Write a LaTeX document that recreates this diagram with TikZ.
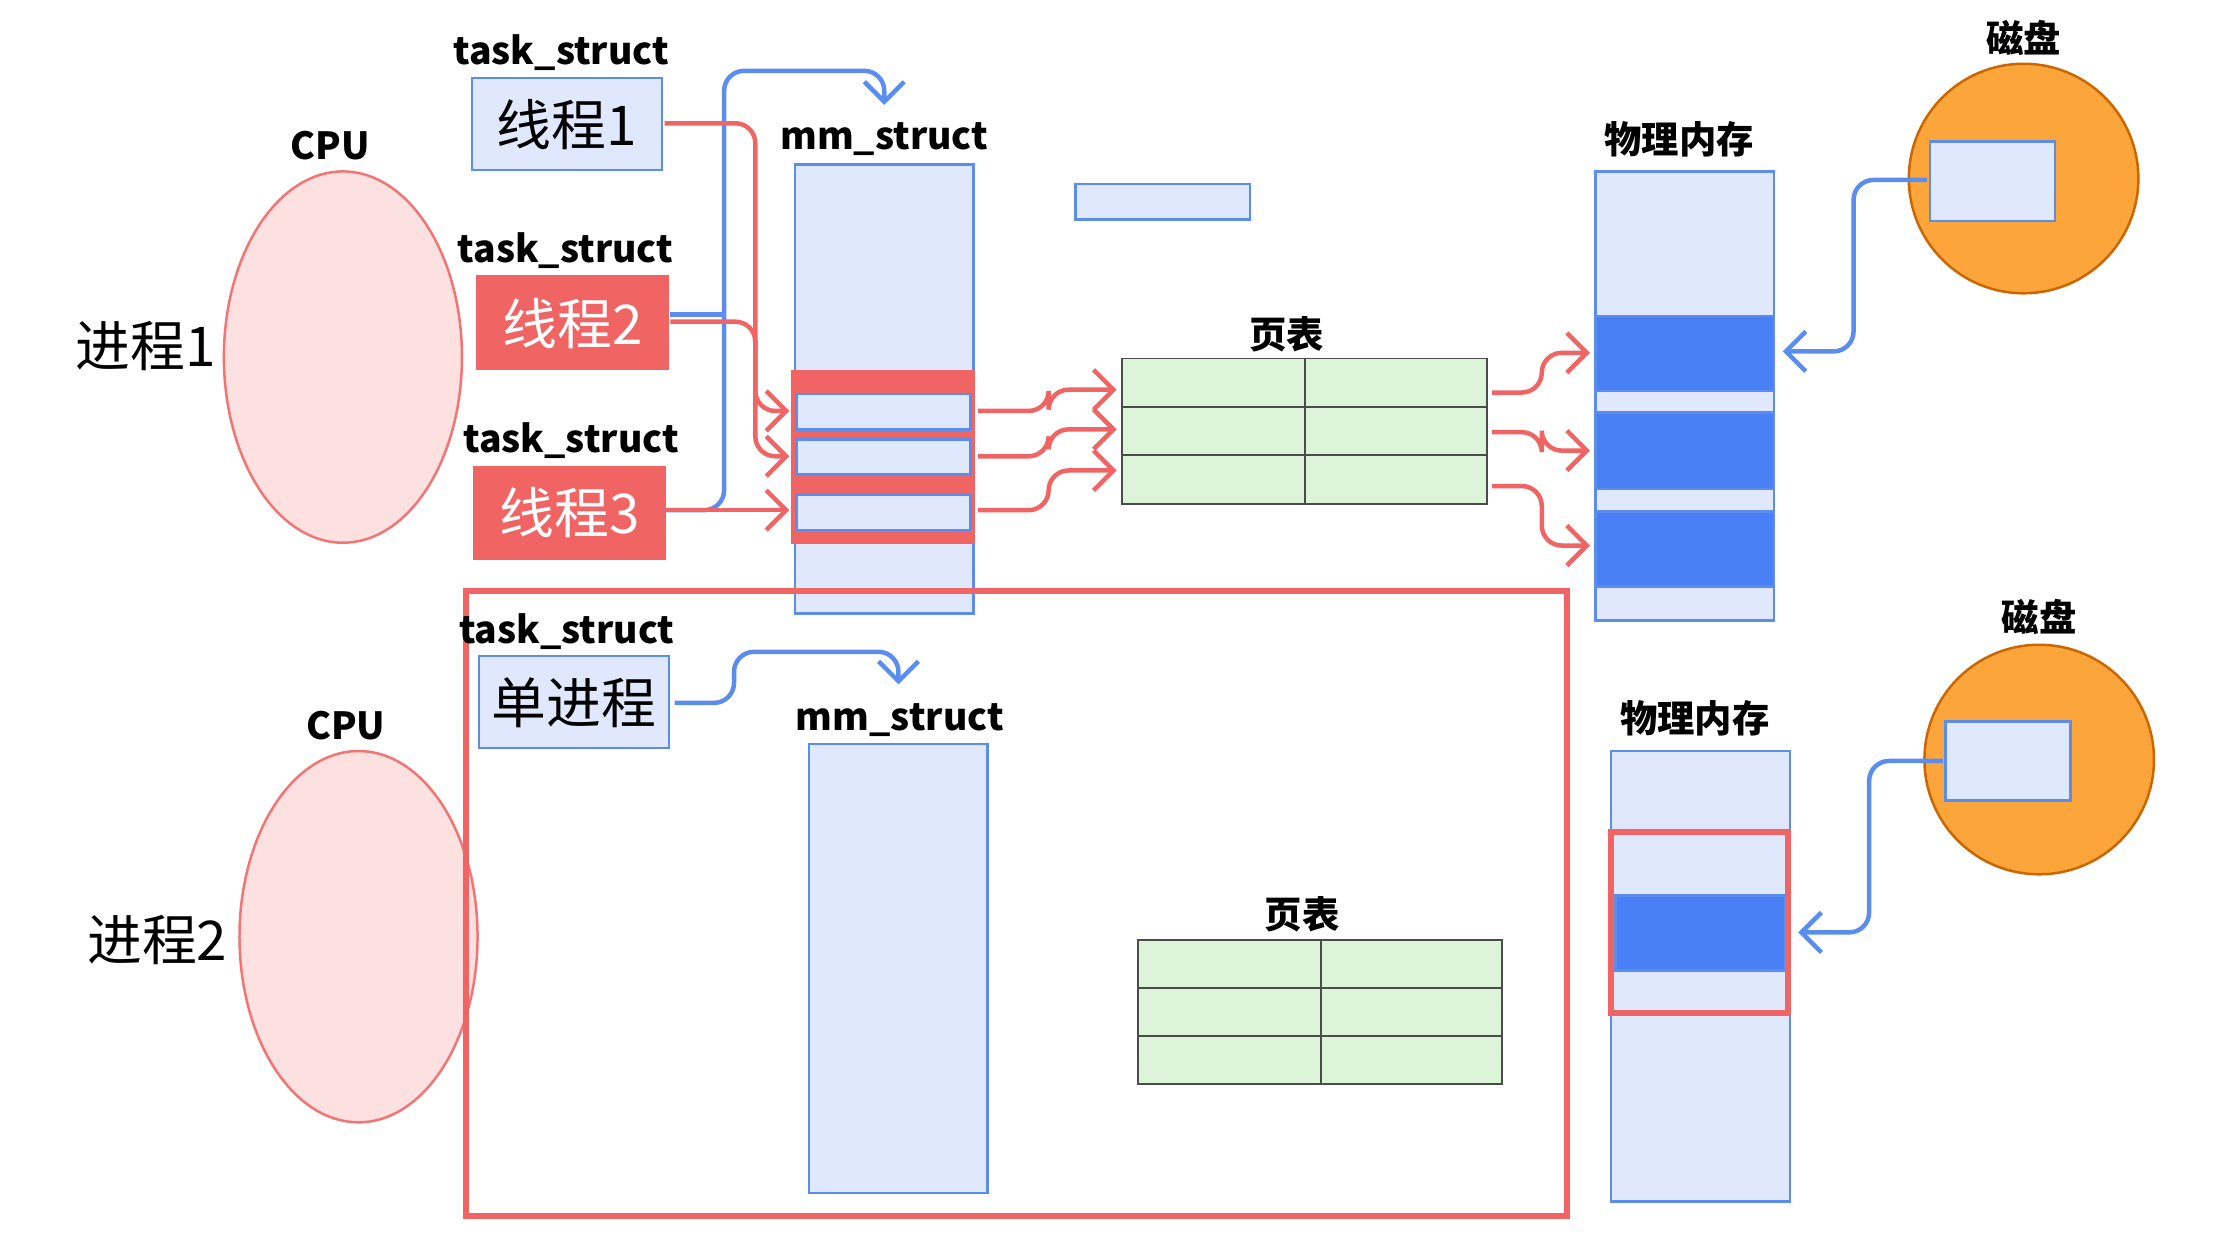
\documentclass[tikz,border=0pt]{standalone}
\usepackage{fontspec}
\setmainfont{Noto Sans CJK SC}
\usetikzlibrary{arrows.meta}
\definecolor{lb}{HTML}{DFE8FC}
\definecolor{bs}{HTML}{5B8DEF}
\definecolor{rd}{HTML}{F06464}
\definecolor{db}{HTML}{4A80F5}
\definecolor{gr}{HTML}{DCF5D8}
\definecolor{pk}{HTML}{FDE0E0}
\definecolor{og}{HTML}{FCA53A}
\begin{document}
\begin{tikzpicture}[x=0.01cm,y=-0.01cm,
 lbl/.style={font=\fontsize{7.5}{9}\selectfont\bfseries},
 big/.style={font=\fontsize{11}{13}\selectfont},
 lbox/.style={draw=bs,fill=lb,line width=0.5pt},
 rbox/.style={draw=rd,fill=rd,line width=0.5pt},
 dbox/.style={draw=bs,fill=db,line width=0.5pt},
 cpu/.style={draw=rd!90,fill=pk,line width=0.5pt},
 ra/.style={draw=rd,line width=0.9pt,rounded corners=4,-{Straight Barb[length=4pt,width=8pt]}},
 ba/.style={draw=bs,line width=0.9pt,rounded corners=4,-{Straight Barb[length=4pt,width=8pt]}},
 tab/.style={draw=black!70,fill=gr,line width=0.4pt}]
\useasboundingbox (0,0) rectangle (1568,874);
\fill[white] (0,0) rectangle (1568,874);
% ---------- process 1 ----------
\draw[cpu] (242,252) ellipse [x radius=84,y radius=131];
\node[lbl] (cpu1) at (233,103) {CPU};
\node[big] (p1) at (103,244) {进程1};
\node[lbl] (ts1) at (396,37) {task\_struct};
\node[lbl] (ts2) at (399,177) {task\_struct};
\node[lbl] (ts3) at (403,311) {task\_struct};
\draw[lbox] (333,55) rectangle (467,120); \node[big] (t1) at (400,88) {线程1};
\draw[rbox] (337,195) rectangle (471,260); \node[big,text=white] (t2) at (404,228) {线程2};
\draw[rbox] (335,330) rectangle (469,394); \node[big,text=white] (t3) at (402,362) {线程3};
\node[lbl] (mm1) at (624,98) {mm\_struct};
\draw[lbox] (561,116) rectangle (687,433);
\draw[rbox] (559,262) rectangle (687,383);
\draw[lbox] (562,278) rectangle (685,303);
\draw[lbox] (562,310) rectangle (685,335);
\draw[lbox] (562,349) rectangle (685,374);
\draw[lbox] (759,130) rectangle (882,155);
\node[lbl] (pt1) at (908,236) {页表};
\draw[tab] (792,253) rectangle (1049,356);
\draw[black!70,line width=0.4pt] (792,287) -- (1049,287) (792,321) -- (1049,321) (921,253) -- (921,356);
\node[lbl] (pm1) at (1185,98) {物理内存};
\draw[lbox] (1126,121) rectangle (1252,438);
\draw[dbox] (1126,223) rectangle (1252,276);
\draw[dbox] (1126,291) rectangle (1252,345);
\draw[dbox] (1126,361) rectangle (1252,414);
\node[lbl] (d1) at (1428,27) {磁盘};
\draw[draw=orange!80!black,fill=og,line width=0.5pt] (1428,126) circle [radius=81];
\draw[lbox] (1362,100) rectangle (1450,156);
% arrows
\draw[ba] (1360,127) -- (1308,127) -- (1308,248) -- (1258,248);
\draw[ba] (469,360) -- (511,360) -- (511,50) -- (624,50) -- (624,74);
\draw[bs,line width=0.9pt] (473,222) -- (511,222);
\draw[ra] (469,87) -- (533,87) -- (533,290) -- (557,290);
\draw[ra] (473,227) -- (533,227) -- (533,322) -- (557,322);
\draw[ra] (469,360) -- (557,360);
\draw[ra] (690,290) -- (740,290) -- (740,275) -- (788,275);
\draw[ra] (690,322) -- (740,322) -- (740,303) -- (788,303);
\draw[ra] (690,360) -- (740,360) -- (740,332) -- (788,332);
\draw[ra] (1053,277) -- (1088,277) -- (1088,249) -- (1122,249);
\draw[ra] (1053,305) -- (1088,305) -- (1088,318) -- (1122,318);
\draw[ra] (1053,343) -- (1088,343) -- (1088,385) -- (1122,385);
% ---------- process 2 ----------
\draw[cpu] (253,661) ellipse [x radius=84,y radius=131];
\node[lbl] (cpu2) at (244,512) {CPU};
\node[big] (p2) at (111,663) {进程2};
\draw[rd,line width=1.2pt] (329,417) rectangle (1106,858);
\node[lbl] (ts4) at (400,446) {task\_struct};
\draw[lbox] (338,463) rectangle (472,528); \node[big] (sp) at (405,496) {单进程};
\draw[ba] (476,496) -- (518,496) -- (518,460) -- (634,460) -- (634,483);
\node[lbl] (mm2) at (635,508) {mm\_struct};
\draw[lbox] (571,525) rectangle (697,842);
\node[lbl] (pt2) at (919,645) {页表};
\draw[tab] (803,663) rectangle (1060,765);
\draw[black!70,line width=0.4pt] (803,697) -- (1060,697) (803,731) -- (1060,731) (932,663) -- (932,765);
\node[lbl] (pm2) at (1196,507) {物理内存};
\draw[lbox] (1137,530) rectangle (1263,848);
\draw[dbox] (1140,632) rectangle (1260,685);
\draw[rd,line width=1.2pt] (1137,587) rectangle (1262,715);
\node[lbl] (d2) at (1439,435) {磁盘};
\draw[draw=orange!80!black,fill=og,line width=0.5pt] (1439,536) circle [radius=81];
\draw[lbox] (1373,509) rectangle (1461,565);
\draw[ba] (1371,537) -- (1319,537) -- (1319,658) -- (1269,658);
\end{tikzpicture}
\end{document}
